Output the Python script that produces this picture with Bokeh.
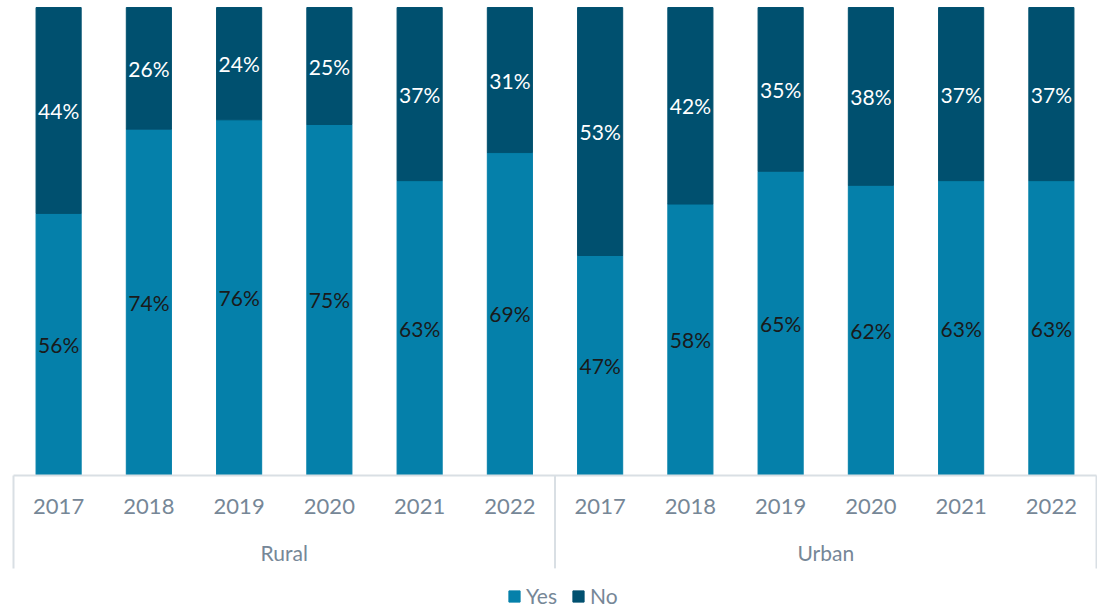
from bokeh.plotting import figure
from bokeh.models import ColumnDataSource, Range1d, Legend, LegendItem
from bokeh.core.properties import value
from bokeh.embed import file_html
from bokeh.resources import INLINE

groups = ["Rural", "Urban"]
years = ["2017", "2018", "2019", "2020", "2021", "2022"]
rural_yes = [56, 74, 76, 75, 63, 69]
rural_no = [44, 26, 24, 25, 37, 31]
urban_yes = [47, 58, 65, 62, 63, 63]
urban_no = [53, 42, 35, 38, 37, 37]

YES_C = "#0580aa"
NO_C = "#00506f"
GREY = "#768797"
LINE = "#d9dfe4"
FONT = "Lato"

yes_vals = rural_yes + urban_yes
no_vals = rural_no + urban_no
n = len(yes_vals)
xs = [i + 0.5 for i in range(n)]
yes_f = [v / 100 for v in yes_vals]
no_f = [v / 100 for v in no_vals]
tops = [a + b for a, b in zip(yes_f, no_f)]

src = ColumnDataSource(dict(
    x=xs, yes=yes_f, top=tops,
    yes_lab=[f"{v}%" for v in yes_vals], no_lab=[f"{v}%" for v in no_vals],
    yes_mid=[v / 2 for v in yes_f], no_mid=[a + b / 2 for a, b in zip(yes_f, no_f)],
))

W, H = 1097, 612
p = figure(width=W, height=H, output_backend="svg", toolbar_location=None,
           x_range=Range1d(-0.144, 12.011), y_range=Range1d(-0.293, 1.015),
           min_border=0)
p.axis.visible = False
p.grid.visible = False
p.outline_line_color = None
p.background_fill_color = "white"

r_yes = p.vbar(x="x", bottom=0, top="yes", width=0.5, source=src,
               fill_color=YES_C, line_color=YES_C)
r_no = p.vbar(x="x", bottom="yes", top="top", width=0.5, source=src,
              fill_color=NO_C, line_color=NO_C)

p.text(x="x", y="yes_mid", text="yes_lab", source=src, text_align="center",
       text_baseline="middle", text_color="#1a1a1a", text_font=value(FONT),
       text_font_size="21px")
p.text(x="x", y="no_mid", text="no_lab", source=src, text_align="center",
       text_baseline="middle", text_color="white", text_font=value(FONT),
       text_font_size="21px")

# category axis box
AX_BOTTOM = -0.1987
p.segment(x0=[0], y0=[0], x1=[n], y1=[0], line_color=LINE, line_width=2)
p.segment(x0=[0, n / 2, n], y0=[0, 0, 0], x1=[0, n / 2, n],
          y1=[AX_BOTTOM] * 3, line_color=LINE, line_width=2)

year_labels = years + years
p.text(x=xs, y=[-0.0662] * n, text=year_labels, text_align="center",
       text_baseline="middle", text_color=GREY, text_font=value(FONT),
       text_font_size="22px")
p.text(x=[n / 4, 3 * n / 4], y=[-0.1645] * 2, text=groups, text_align="center",
       text_baseline="middle", text_color=GREY, text_font=value(FONT),
       text_font_size="21px")

legend = Legend(items=[LegendItem(label="Yes", renderers=[r_yes]),
                       LegendItem(label="No", renderers=[r_no])],
                orientation="horizontal", location=(507, 4),
                glyph_width=14, glyph_height=14, label_standoff=5, spacing=14,
                label_text_font=FONT, label_text_font_size="21px",
                label_text_color=GREY, border_line_color=None,
                background_fill_alpha=0, padding=0, margin=0)
p.add_layout(legend)

open("out.html", "w").write(file_html(p, INLINE))
